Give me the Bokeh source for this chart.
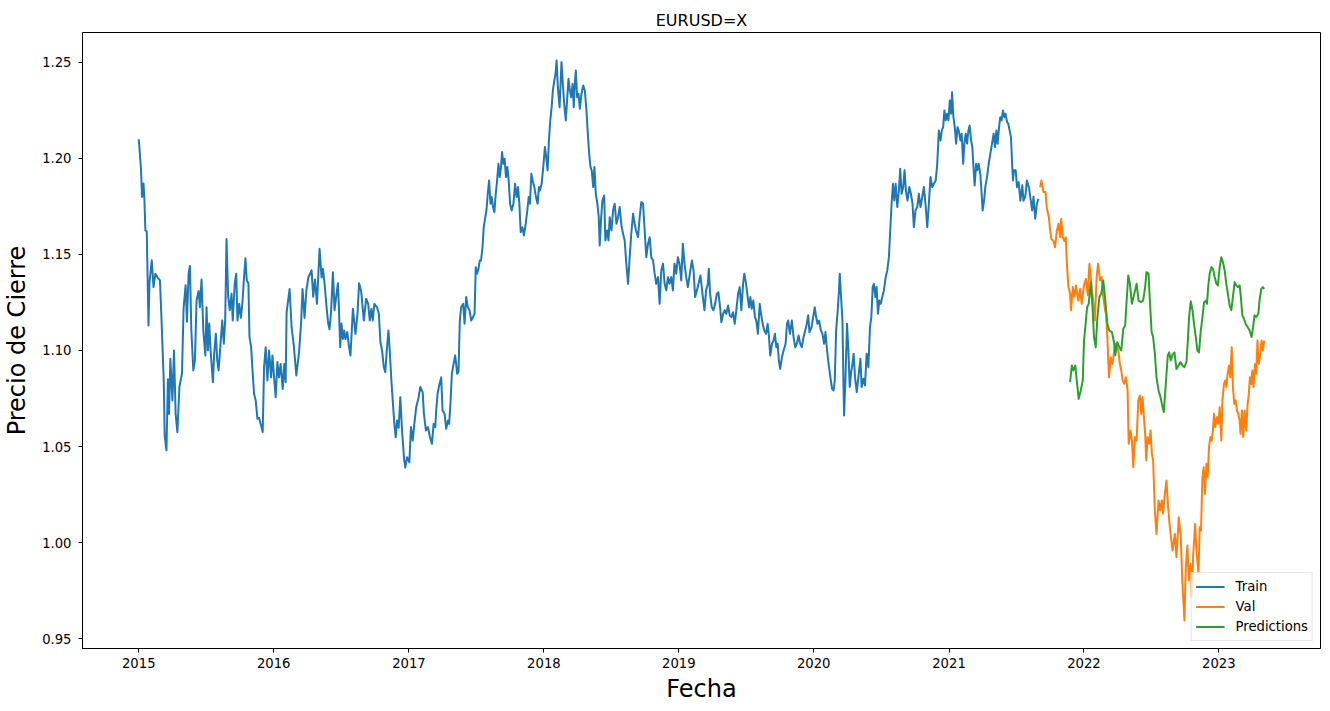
import numpy as np
import pandas as pd
from bokeh.plotting import figure
from bokeh.models import (ColumnDataSource, Range1d, FixedTicker,
                          NumeralTickFormatter, DatetimeTickFormatter)
from bokeh.embed import file_html
from bokeh.resources import INLINE

# Fechas en años decimales (2015.5 = mitad de 2015), valores = precio de cierre
train_fecha = [
    2015.000, 2015.017, 2015.024, 2015.035, 2015.042, 2015.049, 2015.059, 2015.061, 2015.072, 2015.079,
    2015.096, 2015.109, 2015.123, 2015.140, 2015.157, 2015.168, 2015.185, 2015.192, 2015.205, 2015.216,
    2015.224, 2015.234, 2015.249, 2015.261, 2015.273, 2015.286, 2015.301, 2015.320, 2015.332, 2015.347,
    2015.357, 2015.369, 2015.379, 2015.389, 2015.404, 2015.416, 2015.428, 2015.443, 2015.453, 2015.465,
    2015.478, 2015.493, 2015.502, 2015.512, 2015.522, 2015.532, 2015.549, 2015.559, 2015.571, 2015.581,
    2015.591, 2015.600, 2015.618, 2015.630, 2015.640, 2015.650, 2015.662, 2015.674, 2015.687, 2015.696,
    2015.711, 2015.722, 2015.731, 2015.744, 2015.756, 2015.768, 2015.778, 2015.790, 2015.800, 2015.812,
    2015.820, 2015.832, 2015.844, 2015.854, 2015.866, 2015.879, 2015.891, 2015.918, 2015.928, 2015.940,
    2015.953, 2015.965, 2015.980, 2015.990, 2016.004, 2016.014, 2016.027, 2016.039, 2016.051, 2016.066,
    2016.078, 2016.088, 2016.095, 2016.117, 2016.132, 2016.147, 2016.167, 2016.187, 2016.202, 2016.213,
    2016.228, 2016.241, 2016.256, 2016.280, 2016.292, 2016.305, 2016.320, 2016.339, 2016.354, 2016.364,
    2016.376, 2016.391, 2016.403, 2016.413, 2016.425, 2016.438, 2016.450, 2016.462, 2016.475, 2016.482,
    2016.492, 2016.501, 2016.512, 2016.521, 2016.531, 2016.544, 2016.556, 2016.568, 2016.586, 2016.605,
    2016.620, 2016.632, 2016.647, 2016.667, 2016.684, 2016.699, 2016.711, 2016.723, 2016.733, 2016.745,
    2016.765, 2016.778, 2016.790, 2016.802, 2016.815, 2016.826, 2016.837, 2016.849, 2016.859, 2016.871,
    2016.881, 2016.893, 2016.903, 2016.913, 2016.925, 2016.937, 2016.950, 2016.965, 2016.974, 2016.987,
    2017.004, 2017.016, 2017.029, 2017.041, 2017.055, 2017.073, 2017.085, 2017.103, 2017.112, 2017.127,
    2017.142, 2017.157, 2017.171, 2017.184, 2017.196, 2017.203, 2017.213, 2017.225, 2017.240, 2017.250,
    2017.265, 2017.277, 2017.290, 2017.299, 2017.309, 2017.319, 2017.332, 2017.343, 2017.351, 2017.358,
    2017.368, 2017.378, 2017.388, 2017.403, 2017.413, 2017.425, 2017.437, 2017.450, 2017.462, 2017.476,
    2017.487, 2017.496, 2017.506, 2017.516, 2017.526, 2017.535, 2017.546, 2017.555, 2017.565, 2017.575,
    2017.585, 2017.595, 2017.605, 2017.614, 2017.624, 2017.634, 2017.644, 2017.654, 2017.664, 2017.674,
    2017.683, 2017.691, 2017.701, 2017.710, 2017.720, 2017.730, 2017.740, 2017.750, 2017.762, 2017.775,
    2017.787, 2017.799, 2017.809, 2017.819, 2017.829, 2017.841, 2017.853, 2017.866, 2017.878, 2017.888,
    2017.897, 2017.908, 2017.917, 2017.930, 2017.942, 2017.954, 2017.964, 2017.971, 2017.984, 2017.996,
    2018.008, 2018.018, 2018.028, 2018.038, 2018.048, 2018.058, 2018.067, 2018.078, 2018.087, 2018.095,
    2018.104, 2018.117, 2018.131, 2018.141, 2018.151, 2018.163, 2018.174, 2018.183, 2018.193, 2018.203,
    2018.213, 2018.222, 2018.230, 2018.237, 2018.247, 2018.257, 2018.267, 2018.279, 2018.292, 2018.304,
    2018.316, 2018.326, 2018.336, 2018.346, 2018.355, 2018.366, 2018.375, 2018.385, 2018.397, 2018.407,
    2018.414, 2018.425, 2018.434, 2018.447, 2018.456, 2018.469, 2018.479, 2018.488, 2018.501, 2018.513,
    2018.525, 2018.538, 2018.550, 2018.562, 2018.575, 2018.587, 2018.599, 2018.611, 2018.624, 2018.636,
    2018.648, 2018.661, 2018.673, 2018.683, 2018.698, 2018.710, 2018.722, 2018.735, 2018.747, 2018.759,
    2018.772, 2018.784, 2018.796, 2018.809, 2018.821, 2018.833, 2018.846, 2018.858, 2018.870, 2018.883,
    2018.895, 2018.907, 2018.920, 2018.931, 2018.944, 2018.956, 2018.968, 2018.981, 2018.993, 2019.005,
    2019.018, 2019.030, 2019.042, 2019.055, 2019.067, 2019.082, 2019.097, 2019.109, 2019.121, 2019.134,
    2019.146, 2019.160, 2019.178, 2019.190, 2019.202, 2019.215, 2019.222, 2019.232, 2019.244, 2019.256,
    2019.269, 2019.281, 2019.293, 2019.306, 2019.315, 2019.328, 2019.340, 2019.352, 2019.365, 2019.377,
    2019.389, 2019.402, 2019.414, 2019.426, 2019.439, 2019.451, 2019.463, 2019.476, 2019.485, 2019.498,
    2019.510, 2019.520, 2019.530, 2019.540, 2019.552, 2019.564, 2019.574, 2019.586, 2019.599, 2019.609,
    2019.621, 2019.633, 2019.646, 2019.658, 2019.668, 2019.677, 2019.690, 2019.702, 2019.712, 2019.722,
    2019.732, 2019.741, 2019.751, 2019.764, 2019.776, 2019.791, 2019.801, 2019.810, 2019.823, 2019.837,
    2019.850, 2019.862, 2019.874, 2019.887, 2019.899, 2019.911, 2019.924, 2019.936, 2019.948, 2019.958,
    2019.968, 2019.983, 2019.995, 2020.007, 2020.017, 2020.027, 2020.039, 2020.052, 2020.064, 2020.076,
    2020.086, 2020.096, 2020.106, 2020.116, 2020.126, 2020.135, 2020.146, 2020.155, 2020.165, 2020.175,
    2020.185, 2020.192, 2020.202, 2020.212, 2020.219, 2020.224, 2020.234, 2020.246, 2020.256, 2020.266,
    2020.275, 2020.286, 2020.295, 2020.305, 2020.318, 2020.330, 2020.345, 2020.354, 2020.367, 2020.379,
    2020.391, 2020.404, 2020.416, 2020.426, 2020.436, 2020.445, 2020.456, 2020.465, 2020.475, 2020.485,
    2020.495, 2020.507, 2020.519, 2020.532, 2020.544, 2020.556, 2020.566, 2020.576, 2020.586, 2020.596,
    2020.606, 2020.618, 2020.630, 2020.640, 2020.650, 2020.662, 2020.672, 2020.682, 2020.694, 2020.707,
    2020.719, 2020.731, 2020.741, 2020.753, 2020.766, 2020.778, 2020.790, 2020.803, 2020.815, 2020.827,
    2020.840, 2020.852, 2020.864, 2020.877, 2020.889, 2020.903, 2020.914, 2020.926, 2020.938, 2020.948,
    2020.958, 2020.967, 2020.977, 2020.987, 2020.997, 2021.007, 2021.017, 2021.024, 2021.034, 2021.044,
    2021.054, 2021.064, 2021.073, 2021.086, 2021.095, 2021.106, 2021.115, 2021.125, 2021.135, 2021.145,
    2021.154, 2021.165, 2021.174, 2021.184, 2021.191, 2021.202, 2021.211, 2021.221, 2021.233, 2021.243,
    2021.250, 2021.261, 2021.270, 2021.283, 2021.295, 2021.307, 2021.320, 2021.332, 2021.342, 2021.352,
    2021.361, 2021.372, 2021.381, 2021.391, 2021.401, 2021.411, 2021.420, 2021.431, 2021.440, 2021.450,
    2021.460, 2021.470, 2021.475, 2021.482, 2021.495, 2021.505, 2021.517, 2021.530, 2021.544, 2021.553,
    2021.566, 2021.578, 2021.593, 2021.603, 2021.617, 2021.627, 2021.640, 2021.652, 2021.664,
]
train_cierre = [
    1.2100, 1.1940, 1.1800, 1.1870, 1.1780, 1.1625, 1.1620, 1.1550, 1.1130, 1.1350,
    1.1470, 1.1330, 1.1400, 1.1380, 1.1365, 1.1170, 1.0840, 1.0557, 1.0480, 1.0850,
    1.0670, 1.0957, 1.0740, 1.1000, 1.0670, 1.0575, 1.0810, 1.0880, 1.1220, 1.1340,
    1.1150, 1.1400, 1.1440, 1.1110, 1.0896, 1.0950, 1.1260, 1.1310, 1.1225, 1.1370,
    1.1104, 1.0974, 1.1225, 1.1000, 1.1140, 1.1000, 1.0835, 1.0990, 1.1087, 1.0950,
    1.0896, 1.0980, 1.1156, 1.1035, 1.1156, 1.1580, 1.1280, 1.1210, 1.1295, 1.1156,
    1.1350, 1.1400, 1.1156, 1.1243, 1.1170, 1.1250, 1.1365, 1.1480, 1.1365, 1.1350,
    1.1070, 1.1020, 1.0880, 1.0775, 1.0740, 1.0644, 1.0650, 1.0575, 1.0913, 1.1017,
    1.0844, 1.1000, 1.0860, 1.0974, 1.0844, 1.0757, 1.0940, 1.0860, 1.0930, 1.0800,
    1.0930, 1.0835, 1.1200, 1.1320, 1.1120, 1.1035, 1.0870, 1.0990, 1.1140, 1.1320,
    1.1170, 1.1310, 1.1380, 1.1417, 1.1280, 1.1370, 1.1243, 1.1530, 1.1380, 1.1425,
    1.1350, 1.1225, 1.1140, 1.1110, 1.1210, 1.1408, 1.1210, 1.1280, 1.1350, 1.1225,
    1.1017, 1.1140, 1.1060, 1.1104, 1.1060, 1.1096, 1.1026, 1.0974, 1.1217, 1.1087,
    1.1191, 1.1350, 1.1310, 1.1156, 1.1270, 1.1243, 1.1156, 1.1217, 1.1156, 1.1243,
    1.1225, 1.1191, 1.1043, 1.1000, 1.0913, 1.0887, 1.1000, 1.1104, 1.1000, 1.0844,
    1.0740, 1.0618, 1.0548, 1.0635, 1.0597, 1.0757, 1.0583, 1.0436, 1.0390, 1.0444,
    1.0418, 1.0601, 1.0531, 1.0618, 1.0705, 1.0757, 1.0810, 1.0783, 1.0670, 1.0583,
    1.0601, 1.0548, 1.0514, 1.0618, 1.0601, 1.0688, 1.0774, 1.0818, 1.0860, 1.0688,
    1.0670, 1.0592, 1.0635, 1.0618, 1.0731, 1.0879, 1.0930, 1.0974, 1.0930, 1.0879,
    1.0887, 1.1156, 1.1225, 1.1243, 1.1139, 1.1278, 1.1225, 1.1210, 1.1156, 1.1174,
    1.1191, 1.1434, 1.1400, 1.1425, 1.1469, 1.1469, 1.1538, 1.1642, 1.1686, 1.1729,
    1.1816, 1.1885, 1.1764, 1.1799, 1.1747, 1.1720, 1.1816, 1.1885, 1.1972, 1.1903,
    1.1955, 1.2033, 1.1972, 1.1998, 1.1903, 1.1955, 1.1885, 1.1764, 1.1729, 1.1764,
    1.1868, 1.1799, 1.1851, 1.1764, 1.1616, 1.1642, 1.1599, 1.1660, 1.1729, 1.1799,
    1.1764, 1.1920, 1.1885, 1.1851, 1.1799, 1.1764, 1.1851, 1.1833, 1.1868, 1.1955,
    1.2059, 1.2007, 1.1938, 1.2094, 1.2198, 1.2267, 1.2354, 1.2406, 1.2441, 1.2510,
    1.2371, 1.2267, 1.2502, 1.2389, 1.2285, 1.2198, 1.2319, 1.2415, 1.2354, 1.2319,
    1.2389, 1.2267, 1.2389, 1.2458, 1.2319, 1.2337, 1.2259, 1.2337, 1.2380, 1.2354,
    1.2250, 1.2129, 1.2024, 1.1955, 1.1938, 1.1851, 1.1955, 1.1816, 1.1764, 1.1694,
    1.1547, 1.1694, 1.1781, 1.1807, 1.1573, 1.1625, 1.1573, 1.1694, 1.1625, 1.1729,
    1.1764, 1.1660, 1.1694, 1.1747, 1.1651, 1.1608, 1.1573, 1.1452, 1.1347, 1.1486,
    1.1608, 1.1712, 1.1660, 1.1625, 1.1590, 1.1694, 1.1773, 1.1764, 1.1625, 1.1486,
    1.1556, 1.1590, 1.1486, 1.1469, 1.1400, 1.1347, 1.1382, 1.1243, 1.1417, 1.1452,
    1.1347, 1.1313, 1.1382, 1.1347, 1.1382, 1.1313, 1.1452, 1.1400, 1.1486, 1.1452,
    1.1365, 1.1556, 1.1452, 1.1382, 1.1330, 1.1400, 1.1469, 1.1417, 1.1278, 1.1313,
    1.1347, 1.1390, 1.1278, 1.1210, 1.1313, 1.1347, 1.1425, 1.1295, 1.1225, 1.1210,
    1.1243, 1.1295, 1.1304, 1.1225, 1.1147, 1.1191, 1.1210, 1.1191, 1.1234, 1.1183,
    1.1174, 1.1199, 1.1139, 1.1210, 1.1295, 1.1330, 1.1210, 1.1347, 1.1400, 1.1347,
    1.1278, 1.1225, 1.1278, 1.1217, 1.1260, 1.1174, 1.1156, 1.1087, 1.1243, 1.1191,
    1.1139, 1.1104, 1.1087, 1.1139, 1.1070, 1.0974, 1.1035, 1.1052, 1.1087, 1.1017,
    1.1035, 1.0948, 1.0904, 1.0965, 1.1000, 1.1035, 1.1139, 1.1156, 1.1087, 1.1156,
    1.1070, 1.1017, 1.1035, 1.1078, 1.1035, 1.1017, 1.1070, 1.1104, 1.1139, 1.1183,
    1.1096, 1.1122, 1.1174, 1.1225, 1.1174, 1.1139, 1.1156, 1.1104, 1.1087, 1.1035,
    1.1096, 1.1017, 1.0948, 1.0896, 1.0844, 1.0800, 1.0792, 1.0844, 1.1104, 1.1191,
    1.1295, 1.1400, 1.1278, 1.1156, 1.0844, 1.0662, 1.0844, 1.1139, 1.1000, 1.0810,
    1.0879, 1.0930, 1.0983, 1.0861, 1.0783, 1.0861, 1.0957, 1.0810, 1.0853, 1.0818,
    1.0983, 1.0913, 1.1122, 1.1174, 1.1330, 1.1347, 1.1278, 1.1330, 1.1191, 1.1260,
    1.1243, 1.1278, 1.1313, 1.1382, 1.1417, 1.1486, 1.1625, 1.1764, 1.1868, 1.1781,
    1.1868, 1.1747, 1.1833, 1.1946, 1.1816, 1.1851, 1.1938, 1.1833, 1.1781, 1.1851,
    1.1816, 1.1764, 1.1642, 1.1729, 1.1747, 1.1816, 1.1747, 1.1799, 1.1851, 1.1764,
    1.1642, 1.1764, 1.1903, 1.1851, 1.1868, 1.1885, 1.1972, 1.2146, 1.2094, 1.2146,
    1.2163, 1.2250, 1.2198, 1.2233, 1.2198, 1.2302, 1.2233, 1.2345, 1.2215, 1.2163,
    1.2077, 1.2163, 1.2146, 1.2094, 1.2129, 1.1972, 1.2077, 1.2129, 1.2077, 1.2146,
    1.2172, 1.2094, 1.2059, 1.1938, 1.1859, 1.1972, 1.1938, 1.1972, 1.1920, 1.1816,
    1.1729, 1.1781, 1.1851, 1.1903, 1.1972, 1.2024, 1.2077, 1.2129, 1.2059, 1.2146,
    1.2077, 1.2163, 1.2215, 1.2198, 1.2250, 1.2215, 1.2233, 1.2190, 1.2181, 1.2146,
    1.2111, 1.1955, 1.1885, 1.1938, 1.1938, 1.1850, 1.1877, 1.1780, 1.1860, 1.1780,
    1.1800, 1.1885, 1.1850, 1.1800, 1.1729, 1.1800, 1.1686, 1.1764, 1.1790,
]

val_fecha = [
    2021.676, 2021.686, 2021.701, 2021.716, 2021.726, 2021.741, 2021.750, 2021.760, 2021.775, 2021.787,
    2021.800, 2021.812, 2021.824, 2021.832, 2021.844, 2021.856, 2021.866, 2021.874, 2021.886, 2021.898,
    2021.905, 2021.918, 2021.930, 2021.942, 2021.959, 2021.972, 2021.984, 2022.001, 2022.016, 2022.029,
    2022.041, 2022.053, 2022.066, 2022.081, 2022.095, 2022.105, 2022.120, 2022.132, 2022.144, 2022.157,
    2022.164, 2022.174, 2022.186, 2022.199, 2022.213, 2022.230, 2022.243, 2022.255, 2022.267, 2022.277,
    2022.287, 2022.299, 2022.312, 2022.324, 2022.332, 2022.346, 2022.356, 2022.366, 2022.378, 2022.391,
    2022.403, 2022.415, 2022.425, 2022.435, 2022.445, 2022.454, 2022.462, 2022.472, 2022.484, 2022.494,
    2022.504, 2022.513, 2022.526, 2022.538, 2022.553, 2022.565, 2022.578, 2022.587, 2022.600, 2022.612,
    2022.624, 2022.637, 2022.657, 2022.674, 2022.686, 2022.703, 2022.718, 2022.730, 2022.745, 2022.755,
    2022.767, 2022.777, 2022.790, 2022.799, 2022.809, 2022.824, 2022.834, 2022.849, 2022.858, 2022.868,
    2022.878, 2022.888, 2022.897, 2022.908, 2022.917, 2022.927, 2022.937, 2022.947, 2022.956, 2022.964,
    2022.974, 2022.986, 2022.996, 2023.006, 2023.018, 2023.026, 2023.038, 2023.048, 2023.055, 2023.065,
    2023.075, 2023.085, 2023.095, 2023.104, 2023.114, 2023.124, 2023.134, 2023.144, 2023.154, 2023.161,
    2023.171, 2023.181, 2023.191, 2023.203, 2023.213, 2023.222, 2023.230, 2023.240, 2023.247, 2023.257,
    2023.267, 2023.277, 2023.286, 2023.296, 2023.307, 2023.316, 2023.326, 2023.336,
]
val_cierre = [
    1.1850, 1.1885, 1.1825, 1.1825, 1.1740, 1.1694, 1.1625, 1.1580, 1.1570, 1.1538,
    1.1625, 1.1660, 1.1590, 1.1686, 1.1590, 1.1570, 1.1590, 1.1452, 1.1330, 1.1295,
    1.1210, 1.1330, 1.1280, 1.1339, 1.1260, 1.1320, 1.1243, 1.1339, 1.1373, 1.1287,
    1.1452, 1.1365, 1.1278, 1.1156, 1.1382, 1.1452, 1.1365, 1.1382, 1.1278, 1.1210,
    1.1191, 1.1070, 1.0860, 1.0965, 1.0930, 1.1035, 1.1017, 1.1000, 1.0930, 1.0896,
    1.0844, 1.0826, 1.0860, 1.0792, 1.0514, 1.0583, 1.0531, 1.0392, 1.0549, 1.0531,
    1.0740, 1.0766, 1.0670, 1.0757, 1.0653, 1.0566, 1.0427, 1.0549, 1.0514, 1.0583,
    1.0462, 1.0427, 1.0167, 1.0045, 1.0219, 1.0167, 1.0219, 1.0150, 1.0254, 1.0323,
    1.0184, 1.0080, 0.9958, 1.0045, 0.9924, 1.0132, 1.0028, 0.9785, 0.9594, 0.9871,
    0.9984, 0.9802, 0.9889, 0.9715, 0.9924, 1.0097, 0.9958, 0.9837, 1.0080, 1.0063,
    1.0340, 1.0392, 1.0254, 1.0410, 1.0340, 1.0497, 1.0549, 1.0531, 1.0583, 1.0670,
    1.0601, 1.0653, 1.0618, 1.0705, 1.0531, 1.0740, 1.0826, 1.0844, 1.0810, 1.0879,
    1.0922, 1.0860, 1.1017, 1.0810, 1.0722, 1.0740, 1.0688, 1.0670, 1.0635, 1.0566,
    1.0688, 1.0549, 1.0688, 1.0583, 1.0722, 1.0774, 1.0860, 1.0826, 1.0896, 1.0810,
    1.0930, 1.0879, 1.1052, 1.0930, 1.0983, 1.1052, 1.1000, 1.1052,
]

pred_fecha = [
    2021.898, 2021.911, 2021.923, 2021.937, 2021.947, 2021.962, 2021.977, 2021.992, 2022.001, 2022.011,
    2022.024, 2022.036, 2022.051, 2022.063, 2022.075, 2022.088, 2022.100, 2022.115, 2022.129, 2022.144,
    2022.159, 2022.174, 2022.188, 2022.208, 2022.223, 2022.233, 2022.247, 2022.262, 2022.277, 2022.292,
    2022.306, 2022.317, 2022.329, 2022.341, 2022.356, 2022.371, 2022.391, 2022.405, 2022.425, 2022.439,
    2022.454, 2022.464, 2022.479, 2022.489, 2022.502, 2022.513, 2022.526, 2022.538, 2022.553, 2022.568,
    2022.583, 2022.592, 2022.602, 2022.612, 2022.622, 2022.632, 2022.644, 2022.657, 2022.671, 2022.686,
    2022.701, 2022.716, 2022.730, 2022.745, 2022.760, 2022.772, 2022.779, 2022.792, 2022.804, 2022.816,
    2022.829, 2022.841, 2022.853, 2022.866, 2022.878, 2022.890, 2022.903, 2022.912, 2022.922, 2022.932,
    2022.945, 2022.956, 2022.969, 2022.982, 2022.993, 2023.006, 2023.018, 2023.030, 2023.043, 2023.055,
    2023.067, 2023.080, 2023.092, 2023.104, 2023.117, 2023.129, 2023.141, 2023.154, 2023.163, 2023.174,
    2023.186, 2023.198, 2023.213, 2023.228, 2023.242, 2023.252, 2023.264, 2023.277, 2023.292, 2023.301,
    2023.314, 2023.326, 2023.336,
]
pred_cierre = [
    1.0835, 1.0922, 1.0896, 1.0922, 1.0844, 1.0748, 1.0792, 1.0844, 1.1052, 1.1121,
    1.1225, 1.1243, 1.1356, 1.1243, 1.1070, 1.1017, 1.1170, 1.1278, 1.1295, 1.1365,
    1.1260, 1.1139, 1.1104, 1.1096, 1.1043, 1.0974, 1.1043, 1.1017, 1.1000, 1.1113,
    1.1130, 1.1260, 1.1391, 1.1348, 1.1243, 1.1287, 1.1348, 1.1260, 1.1252, 1.1260,
    1.1330, 1.1408, 1.1400, 1.1260, 1.1096, 1.1070, 1.0983, 1.0860, 1.0792, 1.0757,
    1.0705, 1.0679, 1.0775, 1.0879, 1.0974, 1.0990, 1.0948, 1.0980, 1.0990, 1.0903,
    1.0922, 1.0940, 1.0922, 1.0913, 1.0940, 1.1070, 1.1170, 1.1256, 1.1213, 1.1139,
    1.1070, 1.1000, 1.0990, 1.1104, 1.1170, 1.1250, 1.1260, 1.1243, 1.1339, 1.1400,
    1.1434, 1.1425, 1.1383, 1.1348, 1.1339, 1.1434, 1.1486, 1.1460, 1.1417, 1.1348,
    1.1295, 1.1234, 1.1210, 1.1278, 1.1356, 1.1339, 1.1330, 1.1339, 1.1278, 1.1183,
    1.1165, 1.1139, 1.1122, 1.1104, 1.1070, 1.1113, 1.1183, 1.1174, 1.1191, 1.1260,
    1.1321, 1.1330, 1.1321,
]

anios_eje = [2015, 2016, 2017, 2018, 2019, 2020, 2021, 2022, 2023]
precios_eje = [0.95, 1.00, 1.05, 1.10, 1.15, 1.20, 1.25]


def a_fecha(anios):
    """Convierte años decimales a datetime64."""
    anios = np.asarray(anios, dtype=float)
    base = pd.Timestamp("2015-01-01")
    return (base + pd.to_timedelta((anios - 2015.0) * 365.25, unit="D")).to_numpy()


FUENTE = "DejaVu Sans"

# margenes del 5% como matplotlib
todas_f = train_fecha + val_fecha + pred_fecha
todos_v = train_cierre + val_cierre + pred_cierre
f_min, f_max = min(todas_f), max(todas_f)
v_min, v_max = min(todos_v), max(todos_v)
mf = 0.05 * (f_max - f_min)
mv = 0.05 * (v_max - v_min)

x_ini, x_fin = a_fecha([f_min - mf, f_max + mf])

p = figure(width=1330, height=711, x_axis_type="datetime",
           title="EURUSD=X", toolbar_location=None, output_backend="svg",
           x_range=Range1d(x_ini, x_fin),
           y_range=Range1d(v_min - mv, v_max + mv),
           min_border_left=80, min_border_right=10,
           min_border_top=32, min_border_bottom=63)

p.title.align = "center"
p.title.text_font = FUENTE
p.title.text_font_size = "16px"
p.title.text_font_style = "normal"
p.title.text_color = "black"
p.title.standoff = 6

p.xgrid.visible = False
p.ygrid.visible = False
p.outline_line_color = "black"
p.outline_line_alpha = 1.0
p.outline_line_width = 1

p.xaxis.axis_label = "Fecha"
p.yaxis.axis_label = "Precio de Cierre"
for eje in (p.xaxis, p.yaxis):
    eje.axis_label_text_font = FUENTE
    eje.axis_label_text_font_size = "24px"
    eje.axis_label_text_font_style = "normal"
    eje.axis_label_text_color = "black"
    eje.major_label_text_font = FUENTE
    eje.major_label_text_font_size = "13.2px"
    eje.major_label_text_color = "black"
    eje.major_tick_out = 4
    eje.major_tick_in = 0
    eje.major_tick_line_color = "black"
    eje.minor_tick_line_color = None
    eje.axis_line_color = "black"
p.xaxis.major_label_standoff = 5
p.xaxis.axis_label_standoff = 4
p.yaxis.major_label_standoff = 7
p.yaxis.axis_label_standoff = 8

ticks_ms = [pd.Timestamp(f"{a}-01-01").timestamp() * 1000 for a in anios_eje]
p.xaxis.ticker = FixedTicker(ticks=ticks_ms)
p.xaxis.formatter = DatetimeTickFormatter(years="%Y", months="%Y", days="%Y",
                                          hours="%Y", minutes="%Y")
p.yaxis.ticker = FixedTicker(ticks=precios_eje)
p.yaxis.formatter = NumeralTickFormatter(format="0.00")

series = [
    ("Train", train_fecha, train_cierre, "#1f77b4"),
    ("Val", val_fecha, val_cierre, "#ff7f0e"),
    ("Predictions", pred_fecha, pred_cierre, "#2ca02c"),
]
for nombre, fechas, valores, color in series:
    src = ColumnDataSource(data={"x": a_fecha(fechas), "y": valores})
    p.line("x", "y", source=src, line_color=color, line_width=2,
           line_join="round", legend_label=nombre)

leg = p.legend[0]
leg.location = "bottom_right"
leg.margin = 7
leg.padding = 4
leg.spacing = 1
leg.glyph_width = 29
leg.glyph_height = 19
leg.label_height = 19
leg.label_standoff = 11
leg.label_text_font = FUENTE
leg.label_text_font_size = "13.2px"
leg.label_text_color = "black"
leg.border_line_color = "#cccccc"
leg.border_line_width = 1
leg.background_fill_color = "white"
leg.background_fill_alpha = 0.8

open("out.html", "w").write(file_html(p, INLINE))
